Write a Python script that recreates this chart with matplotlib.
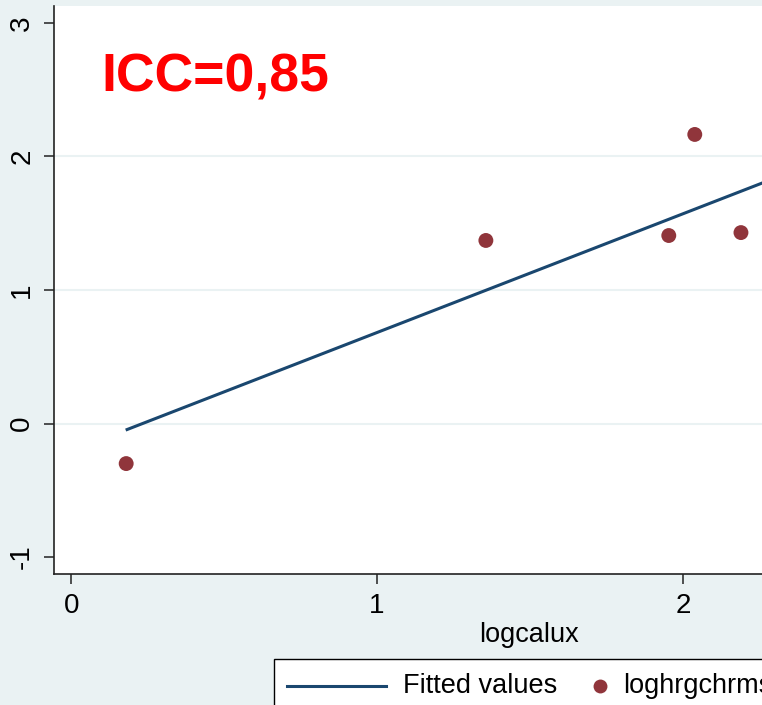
import matplotlib.pyplot as plt
from matplotlib.lines import Line2D
from matplotlib.patches import Rectangle

plt.rcParams['font.family'] = ['Liberation Sans', 'DejaVu Sans']

# data
logcalux = [0.18, 1.356, 1.954, 2.039, 2.19]
loghrgchrms = [-0.30, 1.371, 1.408, 2.165, 1.43]
fit_x = [0.183, 2.60]
fit_y = [-0.045, 2.104]
yticks = [-1, 0, 1, 2, 3]
xticks = [0, 1, 2]

bg = '#EAF2F3'
navy = '#1A476F'
maroon = '#90353B'

fig = plt.figure(figsize=(7.62, 7.05), dpi=100, facecolor=bg)
# axes run past the right edge (the original picture is cropped)
ax = fig.add_axes([54 / 762, 1 - 574 / 705, 950 / 762, 568 / 705])
ax.set_facecolor('white')

for y in [0, 1, 2]:
    ax.axhline(y, color=bg, lw=1.5, zorder=0)

ax.plot(fit_x, fit_y, color=navy, lw=2.2, zorder=2)
ax.scatter(logcalux, loghrgchrms, s=115, color=maroon, edgecolors='none', zorder=3)

ax.set_xlim(-0.056, 3.05)
ax.set_ylim(-1.127, 3.127)
ax.set_xticks(xticks)
ax.set_yticks(yticks)
ax.set_yticklabels([str(t) for t in yticks], rotation=90, va='center')
ax.tick_params(axis='both', labelsize=20, length=7.5, width=1.1, color='#222222')
ax.tick_params(axis='y', pad=6)
ax.tick_params(axis='x', pad=6)
ax.set_xlabel('logcalux', fontsize=19.5, labelpad=2)

for s in ['top', 'right']:
    ax.spines[s].set_visible(False)
for s in ['left', 'bottom']:
    ax.spines[s].set_linewidth(1.2)
    ax.spines[s].set_color('#222222')

ax.text((101 - 54) / 950, 1 - 72 / 568, 'ICC=0,85', transform=ax.transAxes,
        color='red', fontsize=38.5, fontweight='bold', va='center', ha='left')

# legend box, cropped at the figure edge
fig.patches.append(Rectangle((274 / 762, -0.1), 0.8, 0.1 + (705 - 659) / 705,
                             transform=fig.transFigure, facecolor='white',
                             edgecolor='black', lw=1.0))
ly = 1 - 686 / 705
fig.lines.append(Line2D([287 / 762, 386 / 762], [ly, ly], transform=fig.transFigure,
                        color=navy, lw=2.2))
fig.text(403 / 762, ly, 'Fitted values', fontsize=19.5, va='center', ha='left')
fig.lines.append(Line2D([600 / 762], [ly], transform=fig.transFigure, marker='o',
                        ms=10, color=maroon, mec='none', ls='none'))
fig.text(623 / 762, ly, 'loghrgchrms', fontsize=19.5, va='center', ha='left')

fig.savefig('out.png', dpi=100, facecolor=bg)
